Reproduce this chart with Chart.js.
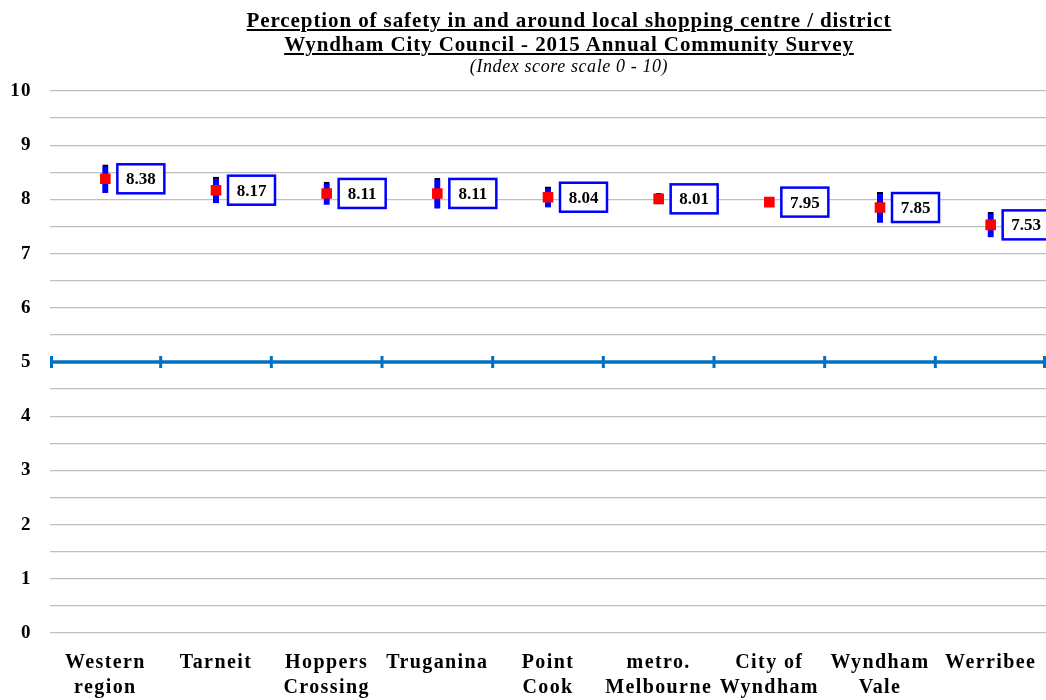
<!DOCTYPE html>
<html>
<head>
<meta charset="utf-8">
<script src="https://cdn.jsdelivr.net/npm/chart.js@4"></script>
<style>
  html, body { margin: 0; padding: 0; background: #fff; }
  #wrap { position: relative; width: 1046px; height: 700px; }
  #heading {
    position: absolute; left: 0; top: 8px; width: 1138px;
    text-align: center; font-family: "Liberation Serif", serif; color: #000;
  }
  #heading .t { font-weight: bold; font-size: 21px; line-height: 24px; letter-spacing: 0.9px; text-decoration: underline; text-decoration-thickness: 1.5px; text-underline-offset: 2px; }
  #heading .s { font-style: italic; font-size: 18px; line-height: 21px; letter-spacing: 0.6px; }
  canvas { position: absolute; left: 0; top: 0; }
</style>
</head>
<body>
<div id="wrap">
  <canvas id="chart" width="1046" height="700"></canvas>
  <div id="heading">
    <div class="t">Perception of safety in and around local shopping centre / district</div>
    <div class="t">Wyndham City Council - 2015 Annual Community Survey</div>
    <div class="s">(Index score scale 0 - 10)</div>
  </div>
</div>
<script>
// Areas surveyed
const categories = [
  ['Western', 'region'], 'Tarneit', ['Hoppers', 'Crossing'], 'Truganina',
  ['Point', 'Cook'], ['metro.', 'Melbourne'], ['City of', 'Wyndham'],
  ['Wyndham', 'Vale'], 'Werribee'
];
// Mean index score per area
const scores = [8.38, 8.17, 8.11, 8.11, 8.04, 8.01, 7.95, 7.85, 7.53];
// Half-width of the confidence interval around each score
const margins = [0.26, 0.24, 0.21, 0.28, 0.19, 0.10, 0.06, 0.28, 0.23];
// Scale midpoint reference
const referenceScore = 5;
const yTicks = [0, 1, 2, 3, 4, 5, 6, 7, 8, 9, 10];

const intervals = scores.map((s, i) => [s - margins[i], s + margins[i]]);

const serif = '"Liberation Serif", "Times New Roman", serif';

// Slightly wider tracking for the axis text
const tracking = {
  id: 'tracking',
  beforeDraw(chart) { chart.ctx.letterSpacing = '1.4px'; },
  afterDraw(chart) { chart.ctx.letterSpacing = '0px'; }
};

// Horizontal reference line with tick marks at category boundaries
const referenceLine = {
  id: 'referenceLine',
  beforeDatasetsDraw(chart) {
    const { ctx, scales: { x, y } } = chart;
    const py = y.getPixelForValue(referenceScore);
    ctx.save();
    ctx.strokeStyle = '#0070C0';
    ctx.lineWidth = 3.5;
    ctx.beginPath();
    ctx.moveTo(x.left, py);
    ctx.lineTo(x.right, py);
    ctx.stroke();
    ctx.lineWidth = 3;
    for (let i = 0; i <= categories.length; i++) {
      let px = x.getPixelForValue(i - 0.5);
      px = Math.min(Math.max(px, x.left + 1.5), x.right - 1.5);
      ctx.beginPath();
      ctx.moveTo(px, py - 6);
      ctx.lineTo(px, py + 6);
      ctx.stroke();
    }
    ctx.restore();
  }
};

// Boxed value labels beside each score marker
const valueBoxes = {
  id: 'valueBoxes',
  afterDatasetsDraw(chart) {
    const { ctx } = chart;
    const meta = chart.getDatasetMeta(1);
    ctx.save();
    ctx.letterSpacing = '0px';
    ctx.font = 'bold 17px ' + serif;
    ctx.textAlign = 'center';
    ctx.textBaseline = 'middle';
    meta.data.forEach((pt, i) => {
      const w = 47, h = 29;
      const bx = pt.x + 12, by = pt.y - h / 2;
      ctx.fillStyle = '#fff';
      ctx.fillRect(bx, by, w, h);
      ctx.strokeStyle = '#0000FF';
      ctx.lineWidth = 2.5;
      ctx.strokeRect(bx, by, w, h);
      ctx.fillStyle = '#000';
      ctx.fillText(scores[i].toFixed(2), bx + w / 2, pt.y + 1);
    });
    ctx.restore();
  }
};

new Chart(document.getElementById('chart'), {
  type: 'bar',
  data: {
    labels: categories,
    datasets: [
      {
        label: 'Interval',
        data: intervals,
        backgroundColor: '#0000FF',
        borderColor: '#000',
        borderWidth: { top: 2, bottom: 0, left: 0, right: 0 },
        borderSkipped: false,
        barThickness: 6,
        order: 2
      },
      {
        type: 'line',
        label: 'Index score',
        data: scores,
        showLine: false,
        pointStyle: 'rect',
        pointRadius: 7.5,
        pointBackgroundColor: '#FF0000',
        pointBorderColor: '#FF0000',
        pointBorderWidth: 0,
        order: 1
      }
    ]
  },
  options: {
    responsive: false,
    devicePixelRatio: 1,
    animation: false,
    layout: { autoPadding: false, padding: { top: 91, right: 0, bottom: 0, left: 0 } },
    plugins: { legend: { display: false }, tooltip: { enabled: false }, title: { display: false } },
    scales: {
      x: {
        offset: true,
        afterFit(scale) {
          scale.height = 67;
          scale.paddingLeft = 0;
          scale.paddingRight = 0;
        },
        grid: { display: false },
        border: { display: false },
        ticks: {
          color: '#000',
          font: { family: serif, size: 20, weight: 'bold', lineHeight: 1.25 },
          padding: 9,
          maxRotation: 0,
          autoSkip: false
        }
      },
      y: {
        min: 0,
        max: 10,
        afterFit(scale) { scale.width = 50; },
        afterBuildTicks(scale) {
          const t = [];
          for (let v = 0; v <= 20; v++) t.push({ value: v / 2 });
          scale.ticks = t;
        },
        grid: { color: '#BFBFBF', lineWidth: 1.3, drawTicks: false },
        border: { display: false },
        ticks: {
          color: '#000',
          font: { family: serif, size: 19, weight: 'bold' },
          padding: 18,
          callback: v => (yTicks.includes(v) ? String(v) : '')
        }
      }
    }
  },
  plugins: [tracking, referenceLine, valueBoxes]
});
</script>
</body>
</html>
